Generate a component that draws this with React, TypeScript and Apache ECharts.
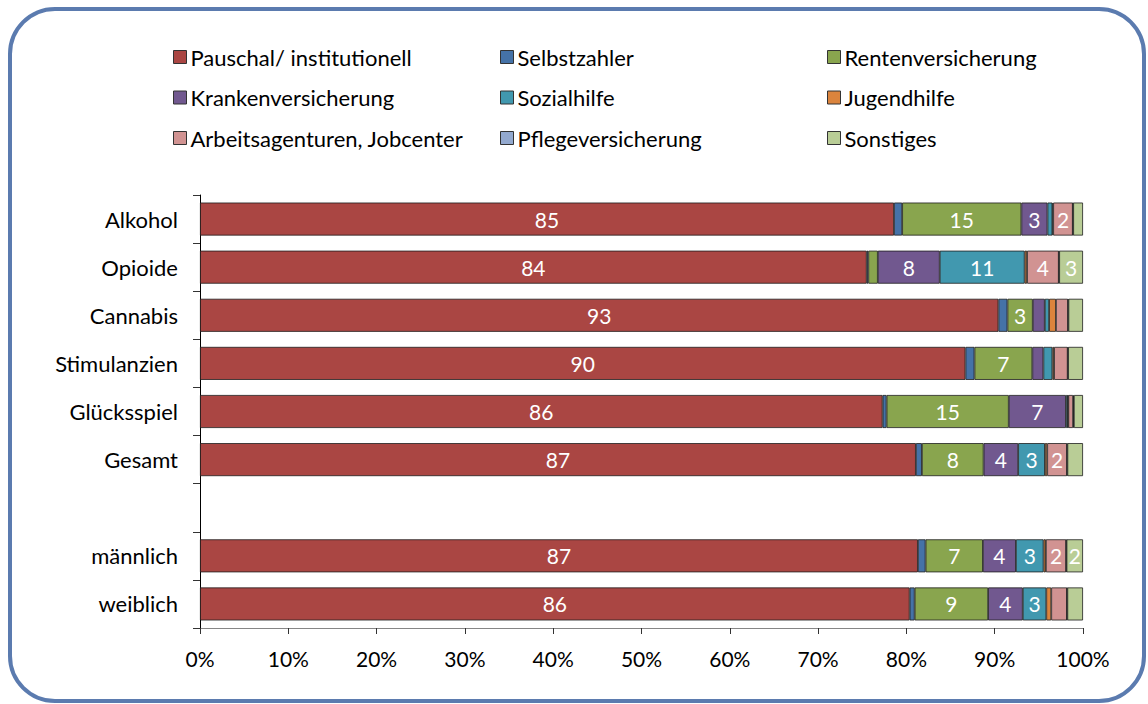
import React, { useEffect, useRef } from "react";
import * as echarts from "echarts";

const categories = ["Alkohol", "Opioide", "Cannabis", "Stimulanzien", "Glücksspiel", "Gesamt", "", "männlich", "weiblich"];
const xTicks = [0, 10, 20, 30, 40, 50, 60, 70, 80, 90, 100];

const pauschal = [85, 84, 93, 90, 86, 87, null, 87, 86];
const selbstzahler = [1.0, 0.2, 1.05, 1.06, 0.5, 0.73, null, 0.93, 0.61];
const renten = [14.6, 1.2, 2.95, 6.8, 15.4, 7.5, null, 6.95, 8.9];
const kranken = [3.2, 7.8, 1.4, 1.3, 7.2, 4.2, null, 4.0, 4.2];
const sozial = [0.6, 10.7, 0.5, 1.06, 0.25, 3.25, null, 3.35, 2.85];
const jugend = [0.1, 0.3, 0.8, 0.2, 0.05, 0.28, null, 0.28, 0.6];
const arbeits = [2.4, 4.0, 1.4, 1.6, 0.6, 2.4, null, 2.45, 1.9];
const pflege = [0.05, 0.05, 0.05, 0.05, 0.1, 0.05, null, 0.05, 0.05];
const sonstiges = [1.2, 3.0, 1.7, 1.75, 1.15, 1.9, null, 2.0, 1.9];

const seriesDefs = [
  { name: "Pauschal/ institutionell", data: pauschal, color: "#AA4643" },
  { name: "Selbstzahler", data: selbstzahler, color: "#4572A7" },
  { name: "Rentenversicherung", data: renten, color: "#89A54E" },
  { name: "Krankenversicherung", data: kranken, color: "#71588F" },
  { name: "Sozialhilfe", data: sozial, color: "#4198AF" },
  { name: "Jugendhilfe", data: jugend, color: "#DB843D" },
  { name: "Arbeitsagenturen, Jobcenter", data: arbeits, color: "#D19392" },
  { name: "Pflegeversicherung", data: pflege, color: "#93A9CF" },
  { name: "Sonstiges", data: sonstiges, color: "#B9CD96" },
];

const FONT = "Lato, Carlito, 'Open Sans', sans-serif";

export default function App() {
  const ref = useRef<HTMLDivElement>(null);
  useEffect(() => {
    if (!ref.current) return;
    const chart = echarts.init(ref.current, null, { renderer: "svg" });
    const totals = categories.map((_, i) => {
      let s = 0;
      seriesDefs.forEach((d) => {
        const v = d.data[i];
        if (v != null) s += v;
      });
      return s;
    });
    const series = seriesDefs.map((d) => ({
      name: d.name,
      type: "bar",
      stack: "total",
      barWidth: 33,
      itemStyle: { color: d.color, borderColor: "#1e1e1e", borderWidth: 0.8 },
      label: {
        show: true,
        position: "inside",
        color: "#ffffff",
        fontFamily: FONT,
        fontSize: 21,
        formatter: (p: any) => {
          const raw = d.data[p.dataIndex];
          return raw != null && raw >= 2 ? String(Math.round(raw)) : "";
        },
      },
      data: d.data.map((v, i) => (v == null ? "-" : (v / totals[i]) * 100)),
    }));
    const legendCol = (names: string[], left: number) => ({
      orient: "vertical",
      left,
      top: 46,
      padding: 0,
      itemWidth: 13,
      itemHeight: 13,
      itemGap: 18.5,
      icon: "rect",
      selectedMode: false,
      itemStyle: { borderColor: "#333", borderWidth: 1 },
      textStyle: { fontFamily: FONT, fontSize: 22, color: "#000", lineHeight: 22, padding: [0, 0, 0, -1] },
      data: names,
    });
    chart.setOption({
      animation: false,
      backgroundColor: "#ffffff",
      graphic: [
        {
          type: "rect",
          z: -10,
          shape: { x: 10, y: 9, width: 1134, height: 692, r: 45 },
          style: { fill: "none", stroke: "#5B7BAF", lineWidth: 4 },
        },
      ],
      legend: [
        legendCol([seriesDefs[0].name, seriesDefs[3].name, seriesDefs[6].name], 173),
        legendCol([seriesDefs[1].name, seriesDefs[4].name, seriesDefs[7].name], 500),
        legendCol([seriesDefs[2].name, seriesDefs[5].name, seriesDefs[8].name], 827),
      ],
      grid: { left: 200, right: 65, top: 195, bottom: 76, containLabel: false },
      xAxis: {
        type: "value",
        min: xTicks[0],
        max: xTicks[xTicks.length - 1],
        interval: 10,
        splitLine: { show: false },
        axisLine: { show: true, lineStyle: { color: "#868686", width: 1 } },
        axisTick: { show: true, length: 6, lineStyle: { color: "#333" } },
        axisLabel: {
          fontFamily: FONT,
          fontSize: 21,
          color: "#000",
          margin: 20,
          formatter: (v: number) => `${v}%`,
        },
      },
      yAxis: {
        type: "category",
        inverse: true,
        data: categories,
        axisLine: { show: true, lineStyle: { color: "#000", width: 1 } },
        axisTick: { show: true, length: 7, lineStyle: { color: "#333" } },
        axisLabel: { fontFamily: FONT, fontSize: 22, color: "#000", margin: 22 },
      },
      series,
    });
    return () => chart.dispose();
  }, []);
  return (
    <div
      ref={ref}
      style={{ position: "fixed", left: 0, top: 0, width: 1148, height: 704, background: "#fff" }}
    />
  );
}
